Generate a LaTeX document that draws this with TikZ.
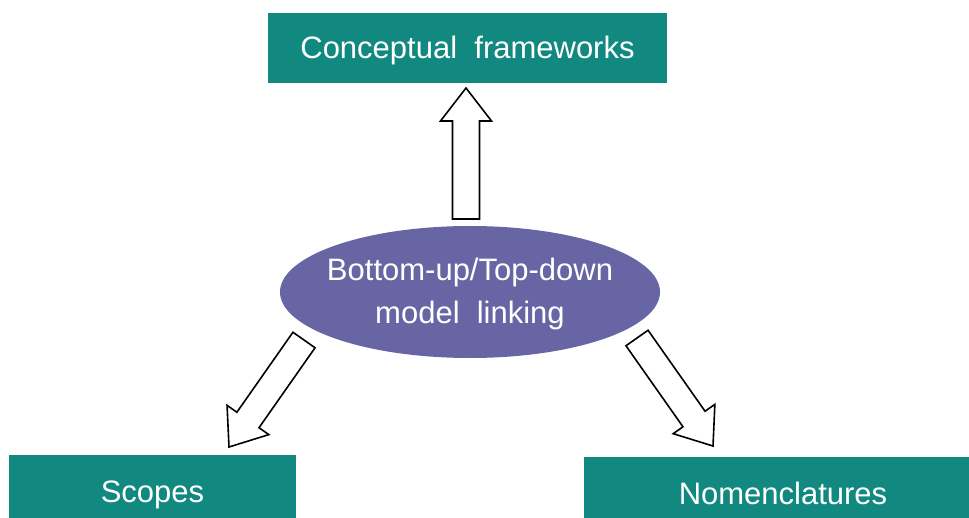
\documentclass[tikz,border=0pt]{standalone}
\usepackage{fontspec}
\setmainfont{Liberation Sans}
\usepackage{xcolor}
\usetikzlibrary{positioning}
\usetikzlibrary{shapes.geometric, calc}
\definecolor{boxteal}{RGB}{18,137,128}
\definecolor{linkpurple}{RGB}{104,101,164}
\tikzstyle{box} = [rectangle, minimum height=35pt, inner sep=0pt, text height=14pt, text depth=3pt, text centered, draw=none, fill=boxteal, text=white]
\tikzstyle{link} = [ellipse, minimum width=190pt, minimum height=66pt, inner sep=0pt, fill=linkpurple]
\tikzstyle{hollow} = [draw=black, fill=white, line width=0.8pt, line join=miter]
% hollow block arrow from #1 (tail) to #2 (tip)
\newcommand{\blockarrow}[2]{
    \path coordinate (neck) at ($(#2)!16.5pt!(#1)$);
    \draw[hollow] ($(#1)!6.75pt!90:(#2)$) -- ($(neck)!6.75pt!90:(#2)$) -- ($(neck)!12.75pt!90:(#2)$) -- (#2)
        -- ($(neck)!12.75pt!-90:(#2)$) -- ($(neck)!6.75pt!-90:(#2)$) -- ($(#1)!6.75pt!-90:(#2)$) -- cycle;
}

\begin{document}
\begin{tikzpicture}[x=0.5pt, y=-0.5pt, font=\fontsize{15.5}{21.5}\selectfont]
    \useasboundingbox (0,0) rectangle (969,518);

    \node[box, minimum width=199.5pt] (concept) at (467.5,48) {Conceptual\ \ frameworks};
    \node[link, label={[align=center, text=white, yshift=-1pt]center:Bottom-up/Top-down\\model\ \ linking}] (linking) at (470,292) {};
    \node[box, minimum width=143.5pt, text height=15pt] (scopes) at (152.5,490) {Scopes};
    \node[box, minimum width=199.5pt, text height=15pt] (nomen) at (783,492) {Nomenclatures};

    \coordinate (up0) at (466,219);
    \coordinate (up1) at (466,88);
    \coordinate (left0) at (304,340);
    \coordinate (left1) at (229,447);
    \coordinate (right0) at (637,338);
    \coordinate (right1) at (713,446);

    \blockarrow{up0}{up1}
    \blockarrow{left0}{left1}
    \blockarrow{right0}{right1}

\end{tikzpicture}
\end{document}
